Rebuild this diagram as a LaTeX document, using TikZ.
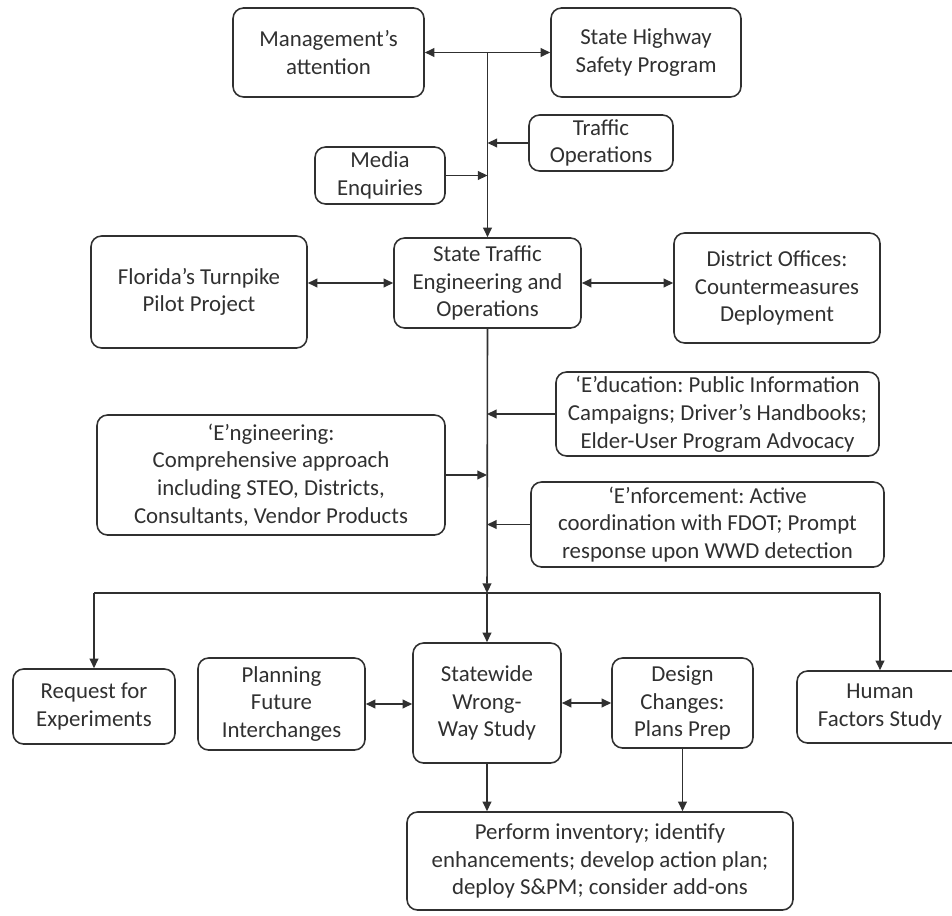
\documentclass[tikz,border=0pt]{standalone}
\usepackage{fontspec}
\setmainfont{Carlito}
\usetikzlibrary{arrows.meta}
\definecolor{ink}{HTML}{303030}
\frenchspacing
\begin{document}
\begin{tikzpicture}[x=0.02cm,y=-0.02cm,
  box/.style={draw=ink,text=ink,line width=0.9pt,rounded corners=6pt,align=center,
    font=\fontsize{13}{15.8}\selectfont,inner sep=1pt},
  sz/.style 2 args={minimum width=#1*0.02cm,minimum height=#2*0.02cm},
  link/.style={draw=ink,line width=0.9pt,-{Triangle[length=5.5pt,width=5pt]}},
  twoway/.style={draw=ink,line width=0.9pt,{Triangle[length=5.5pt,width=5pt]}-{Triangle[length=5.5pt,width=5pt]}}]
\useasboundingbox (0,0) rectangle (952,915);

\node[box,sz={191}{89}] (mgmt) at (328.5,52.5) {Management’s\\attention};
\node[box,sz={190}{89}] (shsp) at (646,52.5) {State Highway\\Safety Program};
\node[box,sz={144}{56}] (traffic) at (601,143) {Traffic\\Operations};
\node[box,sz={130}{57}] (media) at (380,175.5) {Media\\Enquiries};
\node[box,sz={187}{90}] (steo) at (487.5,283) {State Traffic\\Engineering and\\Operations};
\node[box,sz={216}{112}] (turnpike) at (199,292) {Florida’s Turnpike\\Pilot Project};
\node[box,sz={206}{110}] (district) at (777,288) {District Offices:\\Countermeasures\\Deployment};
\node[box,sz={323}{84}] (educ) at (717.5,414) {‘E’ducation: Public Information\\Campaigns; Driver’s Handbooks;\\Elder-User Program Advocacy};
\node[box,sz={348}{120}] (engin) at (271,475) {‘E’ngineering:\\Comprehensive approach\\including STEO, Districts,\\Consultants, Vendor Products};
\node[box,sz={353}{85}] (enforce) at (707.5,524.5) {‘E’nforcement: Active\\coordination with FDOT; Prompt\\response upon WWD detection};
\node[box,sz={162}{75}] (req) at (94,706.5) {Request for\\Experiments};
\node[box,sz={167}{92}] (plan) at (281.5,704) {Planning\\Future\\Interchanges};
\node[box,sz={148}{120}] (sww) at (487,703) {Statewide\\Wrong-\\Way Study};
\node[box,sz={141}{90}] (design) at (682.5,703) {Design\\Changes:\\Plans Prep};
\node[box,sz={166}{72}] (human) at (880,707) {Human\\Factors Study};
\node[box,sz={386}{98}] (perform) at (600,861) {Perform inventory; identify\\enhancements; develop action plan;\\deploy S\&PM; consider add-ons};

\coordinate (top) at (mgmt.east -| steo.north);
\coordinate (bus) at (487,593);
\coordinate (busl) at (req.north |- bus);
\coordinate (busr) at (human.north |- bus);

\draw[twoway] (mgmt.east) -- (shsp.west);
\draw[link] (top) -- (steo.north);
\draw[link] (traffic.west) -- (traffic.west -| top);
\draw[link] (media.east) -- (media.east -| top);
\draw[twoway] (turnpike.east |- steo) -- (steo.west);
\draw[twoway] (steo.east) -- (district.west |- steo);

\draw[link] (steo.south) -- (bus);
\draw[link] (educ.west) -- (educ.west -| bus);
\draw[link] (engin.east) -- (engin.east -| bus);
\draw[link] (enforce.west) -- (enforce.west -| bus);

\draw[draw=ink,line width=0.9pt] (busl) -- (busr);
\draw[link] (busl) -- (req.north);
\draw[link] (bus) -- (sww.north);
\draw[link] (busr) -- (human.north);
\draw[twoway] (plan.east) -- (sww.west |- plan);
\draw[twoway] (sww.east |- design) -- (design.west);
\draw[link] (sww.south) -- (sww.south |- perform.north);
\draw[link] (design.south) -- (design.south |- perform.north);
\end{tikzpicture}
\end{document}
